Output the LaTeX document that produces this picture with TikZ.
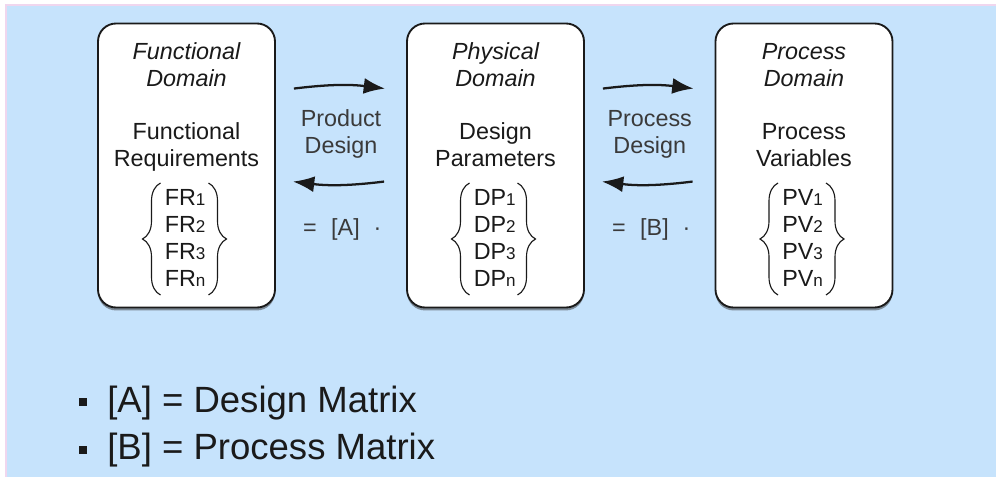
\documentclass[tikz,border=0pt]{standalone}
\usepackage{fontspec}
\setmainfont{Liberation Sans}
\usetikzlibrary{arrows.meta,calc,shadows,decorations.pathreplacing}

\definecolor{panel}{HTML}{C6E3FC}
\definecolor{rim}{HTML}{F0D6EE}
\definecolor{ink}{HTML}{1A1A1A}
\definecolor{soft}{HTML}{3A3A3A}

\newcommand{\mainsz}{\fontsize{17.5pt}{20pt}\selectfont}
\newcommand{\idxsz}{\fontsize{12.8pt}{14pt}\selectfont}
\newcommand{\bigsz}{\fontsize{27.4pt}{32pt}\selectfont}

\tikzset{
  domainbox/.style={draw=ink, line width=1.4pt, fill=white, rounded corners=13.5pt,
    minimum width=132.75pt, minimum height=213pt, inner sep=0pt,
    drop shadow={shadow xshift=0pt, shadow yshift=-2.2pt, opacity=0.5, fill=black!80}},
  line/.style={anchor=base, inner sep=0pt, font=\mainsz, text=ink},
  title/.style={line, font=\mainsz\itshape},
  item/.style={anchor=base west, inner sep=0pt, font=\mainsz, text=ink},
  note/.style={anchor=base, inner sep=0pt, font=\mainsz, text=soft},
  flow/.style={line width=1.7pt, draw=ink, -{Latex[length=16pt,width=12pt]}, bend left=7},
  curly/.style={draw=ink, line width=0.85pt, decorate,
    decoration={brace, amplitude=13.5pt, aspect=0.5}},
  bullet/.style={fill=ink, inner sep=0pt, minimum size=5.5pt},
  point/.style={anchor=base west, inner sep=0pt, font=\bigsz, text=ink}
}

\begin{document}
\begin{tikzpicture}[x=0.75pt, y=-0.75pt]
  % page with a thin rim and the blue panel
  \fill[white] (0,0) rectangle (996,477);
  \fill[rim] (5,4) rectangle (996,477);
  \fill[panel] (7,6) rectangle (996,477);
  \useasboundingbox (0,0) rectangle (996,477);

  % the three domains
  \foreach \name/\cx/\dom/\top/\bot/\pre in {
      fbox/186.5/Functional/Functional/Requirements/FR,
      pbox/495.5/Physical/Design/Parameters/DP,
      vbox/804/Process/Process/Variables/PV} {
    \node[domainbox] (\name) at (\cx,165.5) {};
    \node[title] (\name-d1) at (\cx,60) {\dom};
    \node[title] (\name-d2) at (\cx,87) {Domain};
    \node[line] (\name-n1) at (\cx,140) {\top};
    \node[line] (\name-n2) at (\cx,167) {\bot};
    \node[item] (\name-i1) at (\cx-22,206) {\pre{\idxsz 1}};
    \node[item] (\name-i2) at (\cx-22,233) {\pre{\idxsz 2}};
    \node[item] (\name-i3) at (\cx-22,260) {\pre{\idxsz 3}};
    \node[item] (\name-i4) at (\cx-22,287) {\pre{\idxsz n}};
    \coordinate (\name-lt) at (\cx-26,183);
    \coordinate (\name-lb) at (\cx-26,295);
    \coordinate (\name-rt) at (\cx+22,183);
    \coordinate (\name-rb) at (\cx+22,295);
    \draw[curly] (\name-lb) -- (\name-lt);
    \draw[curly] (\name-rt) -- (\name-rb);
  }

  % mappings between neighbouring domains
  \foreach \a/\b/\lab/\mat in {fbox/pbox/Product/A, pbox/vbox/Process/B} {
    \coordinate (\a-go) at ($(\a.north east)+(18,66)$);
    \coordinate (\b-in) at ($(\b.north west)+(-21,66)$);
    \coordinate (\b-back) at ($(\b.north west)+(-22,159)$);
    \coordinate (\a-ret) at ($(\a.north east)+(17,159)$);
    \draw[flow] (\a-go) to (\b-in);
    \draw[flow] (\b-back) to (\a-ret);
    \coordinate (\a-mid) at ($(\a.east)!0.5!(\b.west)$);
    \node[note] (\a-l1) at (\a-mid |- 0,127) {\lab};
    \node[note] (\a-l2) at (\a-mid |- 0,154) {Design};
    \node[note, anchor=base west] (\a-eq) at ($(\a.east |- 0,236)+(27,0)$)
      {=\hspace{10.8pt}[\mat]\hspace{10.4pt}·};
  }

  % key to the matrices
  \node[bullet] (k1) at (83,402) {};
  \node[point] (t1) at (107,412) {[A] = Design Matrix};
  \node[bullet] (k2) at (83,450) {};
  \node[point] (t2) at (107,459) {[B] = Process Matrix};
\end{tikzpicture}
\end{document}
